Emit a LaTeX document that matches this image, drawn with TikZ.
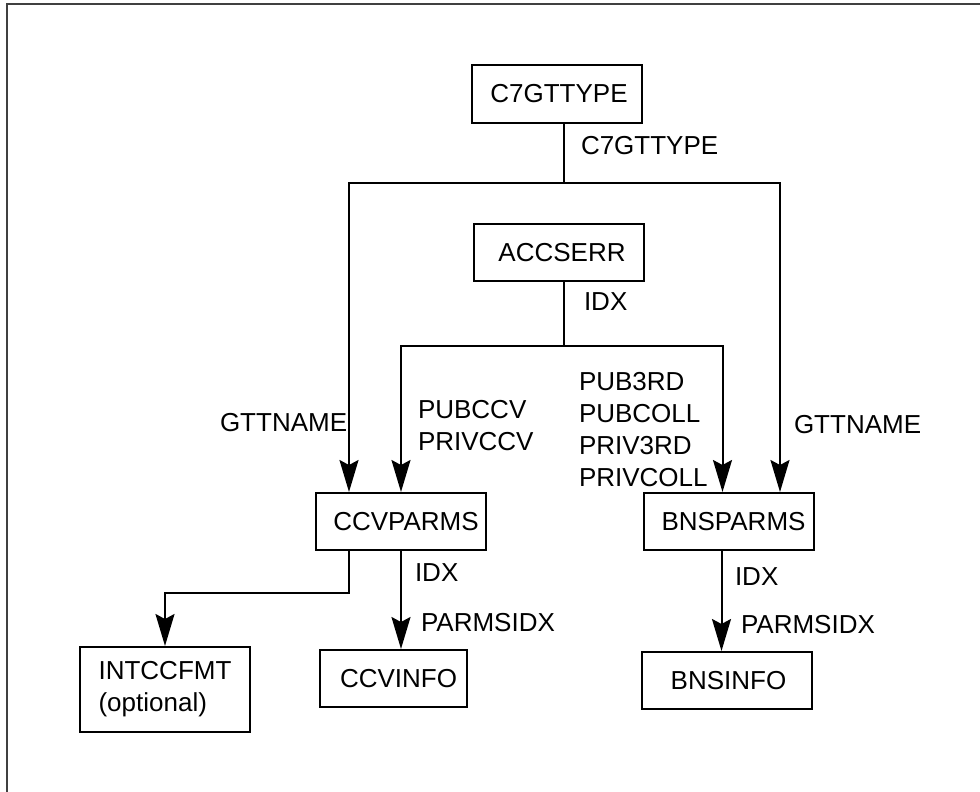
\documentclass[tikz,border=0pt]{standalone}
\usepackage{fontspec}
\setmainfont{Liberation Sans}
\usetikzlibrary{arrows.meta}
\tikzstyle{tbl}=[draw=black,shape=rectangle,minimum width=170pt,minimum height=57pt,inner sep=0pt,font=\fontsize{26}{32}\selectfont]
\tikzstyle{lbl}=[anchor=west,inner sep=0pt,align=left,font=\fontsize{26}{32}\selectfont]
\tikzstyle{arr}=[-{Stealth[length=32pt,width=19pt,inset=5pt]}]

\begin{document}
\begin{tikzpicture}[x=1pt, y=-1pt, line width=2pt]
	\useasboundingbox (0,0) rectangle (980,792);
	\draw[line width=1.5pt,black!75] (980,4) -- (7,4) -- (7,792);
	% tables
	\node (ctt) [tbl] at (557,94) {\hspace{4pt}C7GTTYPE};
	\node (acc) [tbl] at (559,252.5) {\hspace{6pt}ACCSERR};
	\node (ccvp) [tbl] at (401,521.5) {\hspace{10pt}CCVPARMS};
	\node (bnsp) [tbl] at (728.5,521.5) {\hspace{10pt}BNSPARMS};
	\node (intc) [tbl,minimum height=85pt,align=left] at (165,689.5) {INTCCFMT\\(optional)};
	\node (ccvi) [tbl,minimum width=147pt] at (393.5,678.5) {\hspace{10pt}CCVINFO};
	\node (bnsi) [tbl] at (726.5,680.5) {\hspace{4pt}BNSINFO};
	% links
	\coordinate (ja) at (564,183);
	\coordinate (jb) at (564,346);
	\coordinate (jc) at (349,593);
	\draw (ctt.south -| ja) -- (ja);
	\draw[arr] (ja) -| ([xshift=-52pt]ccvp.north);
	\draw[arr] (ja) -| ([xshift=51.5pt]bnsp.north);
	\draw (acc.south -| jb) -- (jb);
	\draw[arr] (jb) -| (ccvp.north);
	\draw[arr] (jb) -| ([xshift=-6pt]bnsp.north);
	\draw[arr] (jc |- ccvp.south) -- (jc) -| (intc.north);
	\draw[arr] (ccvp.south) -- (ccvp.south |- ccvi.north);
	\draw[arr] ([xshift=-7pt]bnsp.south) -- ([xshift=-7pt]bnsp.south |- bnsi.north);
	% keys
	\node (l1) [lbl] at (580,146) {C7GTTYPE};
	\node (l2) [lbl] at (583,302) {IDX};
	\node (l3) [lbl] at (219,423) {GTTNAME};
	\node (l4) [lbl] at (417,426) {PUBCCV\\PRIVCCV};
	\node (l5) [lbl] at (578,430) {PUB3RD\\PUBCOLL\\PRIV3RD\\PRIVCOLL};
	\node (l6) [lbl] at (793,425) {GTTNAME};
	\node (l7) [lbl] at (414,573) {IDX};
	\node (l8) [lbl] at (420,623) {PARMSIDX};
	\node (l9) [lbl] at (734,577) {IDX};
	\node (l10) [lbl] at (740,625) {PARMSIDX};
\end{tikzpicture}
\end{document}
